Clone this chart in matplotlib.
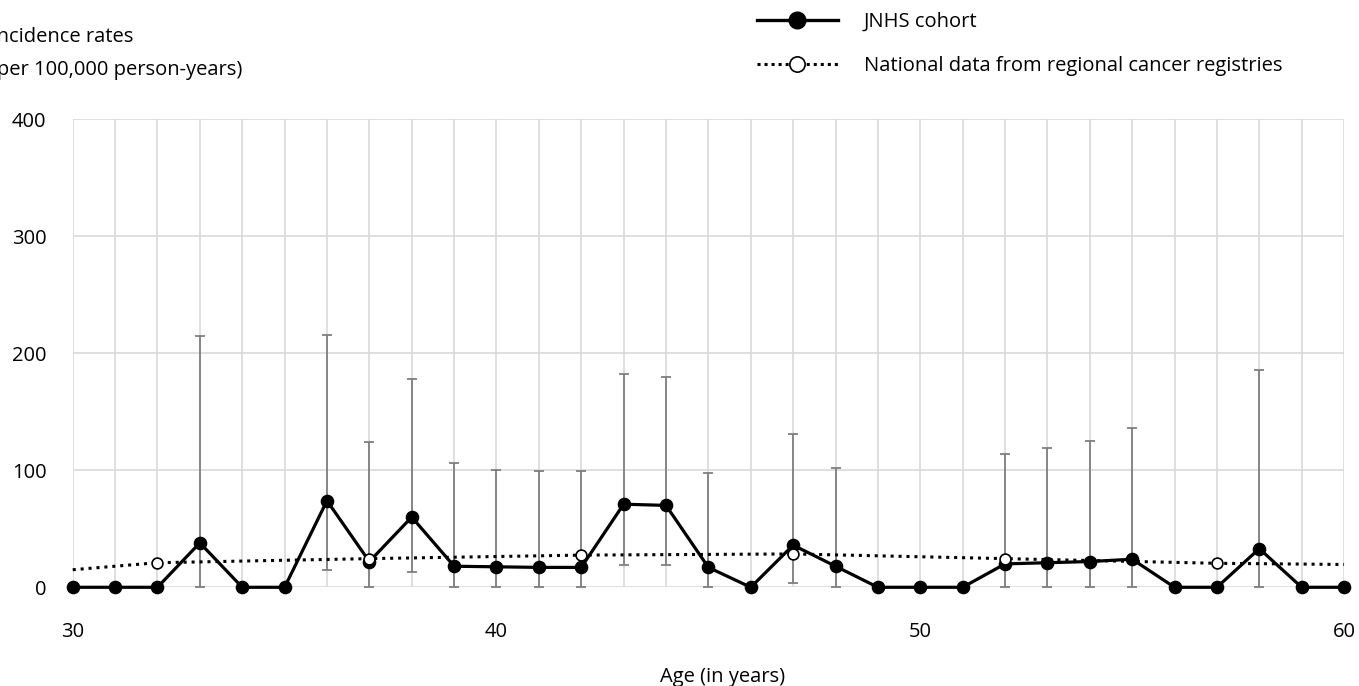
import matplotlib
matplotlib.use("Agg")
import matplotlib.pyplot as plt
from matplotlib.lines import Line2D
import numpy as np

plt.rcParams['font.family'] = ['Open Sans', 'DejaVu Sans']

# --- data ---
ages = list(range(30, 61))
jnhs = [0, 0, 0, 38, 0, 0, 74, 22, 60, 18, 17.5, 17, 17, 71, 70, 17,
        0, 36, 18, 0, 0, 0, 20, 21, 22, 24, 0, 0, 33, 0, 0]
ci_upper = [None, None, None, 215, None, None, 216, 124, 178, 106, 100, 99, 99, 182, 180, 98,
            None, 131, 102, None, None, None, 114, 119, 125, 136, None, None, 186, None, None]
ci_lower = [None, None, None, 0, None, None, 15, 0, 13, 0, 0, 0, 0, 19, 19, 0,
            None, 4, 0, None, None, None, 0, 0, 0, 0, None, None, 0, None, None]

nat_ages = [30, 32, 37, 42, 47, 52, 57, 60]
nat_rates = [15, 21, 24.5, 27.5, 28.5, 24.5, 20.5, 19.5]
nat_marked = [32, 37, 42, 47, 52, 57]

xticks = [30, 40, 50, 60]
yticks = [0, 100, 200, 300, 400]

FS = 14.5
fig = plt.figure(figsize=(13.59, 6.86), dpi=100)
ax = fig.add_axes([0.0535, 0.1439, 0.9355, 0.6822])

# error bars
eb_x, eb_y, eb_lo, eb_hi = [], [], [], []
for a, v, lo, hi in zip(ages, jnhs, ci_lower, ci_upper):
    if hi is not None:
        eb_x.append(a); eb_y.append(v); eb_lo.append(v - lo); eb_hi.append(hi - v)
ax.errorbar(eb_x, eb_y, yerr=[eb_lo, eb_hi], fmt='none', ecolor='#7f7f7f',
            elinewidth=1.3, capsize=3.5, capthick=1.3, zorder=2, clip_on=False)

# JNHS line
ax.plot(ages, jnhs, color='black', lw=2.3, marker='o', markersize=8.8,
        markerfacecolor='black', markeredgecolor='black', zorder=3, clip_on=False)

# National line
mark_idx = [nat_ages.index(a) for a in nat_marked]
ax.plot(nat_ages, nat_rates, color='black', lw=2.2, linestyle=(0, (1, 1.6)), zorder=4,
        clip_on=False)
ax.plot([nat_ages[i] for i in mark_idx], [nat_rates[i] for i in mark_idx], linestyle='none',
        marker='o', markersize=7.8, markerfacecolor='white', markeredgecolor='black',
        markeredgewidth=1.2, zorder=5, clip_on=False)

ax.set_xlim(30, 60)
ax.set_ylim(0, 400)
ax.set_xticks(xticks)
ax.set_xticks(range(30, 61), minor=True)
ax.set_yticks(yticks)
ax.grid(True, which='both', axis='x', color='#d9d9d9', lw=1.2, zorder=0)
ax.grid(True, which='major', axis='y', color='#d9d9d9', lw=1.2, zorder=0)
ax.set_axisbelow(True)
for s in ax.spines.values():
    s.set_visible(False)
ax.tick_params(axis='both', which='both', length=0, labelsize=FS)
ax.tick_params(axis='x', pad=25)
ax.tick_params(axis='y', pad=19)

fig.text(723 / 1359, 1 - 677 / 686, 'Age (in years)', ha='center', va='center', fontsize=FS)
fig.text(-9 / 1359, 1 - 37 / 686, 'Incidence rates', ha='left', va='center', fontsize=FS)
fig.text(-9 / 1359, 1 - 70 / 686, '(per 100,000 person-years)', ha='left', va='center', fontsize=FS)

h1 = Line2D([], [], color='black', lw=2.4, marker='o', markersize=12,
            markerfacecolor='black', markeredgecolor='black')
h2 = Line2D([], [], color='black', lw=2.2, linestyle=(0, (1, 1.3)), marker='o', markersize=11,
            markerfacecolor='white', markeredgecolor='black', markeredgewidth=1.2)
fig.legend([h1, h2], ['JNHS cohort', 'National data from regional cancer registries'],
           loc='upper left', bbox_to_anchor=(757 / 1359, 1 - 12 / 686), frameon=False,
           fontsize=FS, handlelength=4.0, handletextpad=1.3, labelspacing=1.2,
           borderpad=0, borderaxespad=0)

fig.savefig('out.png', dpi=100)
